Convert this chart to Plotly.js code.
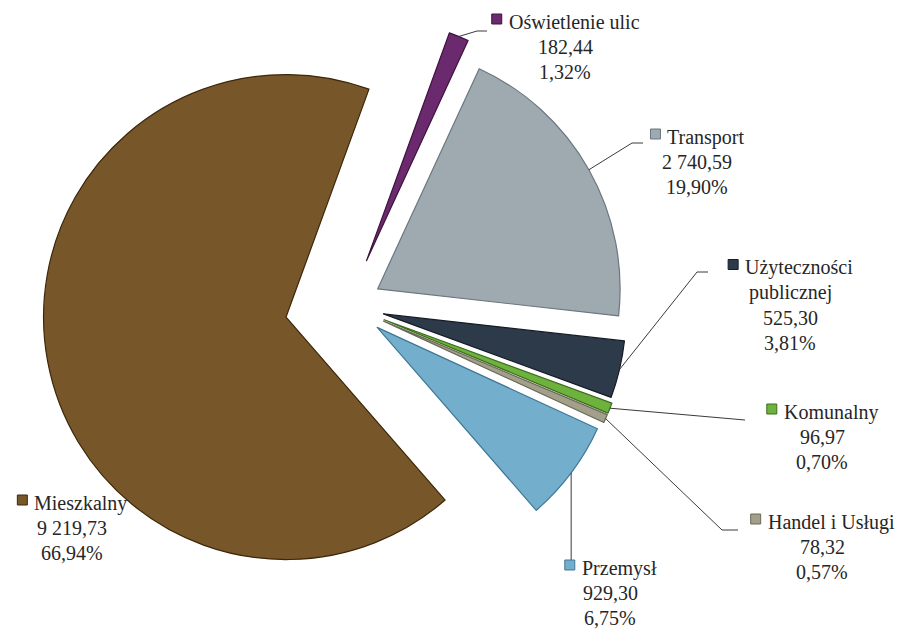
<!DOCTYPE html>
<html><head><meta charset="utf-8">
<script src="https://cdn.plot.ly/plotly-3.0.1.min.js"></script>
<style>html,body{margin:0;padding:0;background:#fff}#chart{width:904px;height:630px}</style>
</head><body><div id="chart"></div>
<script>
// ---- data ----
const categories = ['Oświetlenie ulic','Transport','Użyteczności publicznej','Komunalny','Handel i Usługi','Przemysł','Mieszkalny'];
const values = [182.44, 2740.59, 525.30, 96.97, 78.32, 929.30, 9219.73];
const labelLines = [['Oświetlenie ulic'],['Transport'],['Użyteczności','publicznej'],['Komunalny'],['Handel i Usługi'],['Przemysł'],['Mieszkalny']];

// ---- styles / layout ----
const colors = ['#6b2a6d','#9ea9b0','#2d3a4a','#6cb23c','#a2a08a','#74aecd','#77572a'];
const edgeColors = ['#3e1240','#6b7880','#151c26','#3d6d1d','#6a6856','#3f7894','#3d2709'];
const pulls = [0.20,0.14,0.15,0.16,0.16,0.15,0.26];
const W = 904, H = 630, ROT = 20;
const domX = [0, 0.77], domY = [0.03, 1];
const labelPos = [[565,47],[697,162],[790,305],[822,437],[822,547],[610,593],[72,528]];
const leaders = [[477,31,487,31],[632,143,643,143],[697,272,708,272],[745,420,745,420],[722,530,738,530],['v',560,'v',560],null];
const FONT = 'Liberation Serif', FS = 20, LH = 25, SQ = 10, GAP = 6;

const total = values.reduce((a,b)=>a+b,0);
function fmt(v){ const s=v.toFixed(2).split('.'); return s[0].replace(/\B(?=(\d{3})+(?!\d))/g,' ')+','+s[1]; }
function pct(v){ return (v/total*100).toFixed(2).replace('.',',')+'%'; }

const ctx = document.createElement('canvas').getContext('2d');
ctx.font = `${FS}px "${FONT}"`;

// geometry matching Plotly's pie scaling
const boxW = W*(domX[1]-domX[0]), boxH = H*(domY[1]-domY[0]);
const r = Math.min(boxW,boxH)/(2+2*Math.max(...pulls));
const cx = W*(domX[0]+domX[1])/2, cy = H*(1-domY[0]) - boxH/2;
const px = x=>x/W, py = y=>1-y/H;

let ang = ROT*Math.PI/180;
const shapes = [], annotations = [];
values.forEach((v,i)=>{
  const span = 2*Math.PI*v/total, mid = ang+span/2; ang += span;
  const dx = Math.sin(mid), dy = -Math.cos(mid);
  const ax = cx + (pulls[i]+1)*r*dx, ay = cy + (pulls[i]+1)*r*dy;
  const L = leaders[i];
  if (L){
    const ex = L[0]==='v'?ax:L[0], fx = L[2]==='v'?ax:L[2];
    shapes.push({type:'path', xref:'paper', yref:'paper',
      path:`M ${px(ax)} ${py(ay)} L ${px(ex)} ${py(L[1])} L ${px(fx)} ${py(L[3])}`,
      line:{color:'#3a3a3a', width:1}});
  }
  const lines = [...labelLines[i], fmt(v), pct(v)];
  const n = lines.length, [lx, ly] = labelPos[i];
  lines.forEach((t,k)=>{
    const y = ly + (k-(n-1)/2)*LH;
    const f = {family:FONT, size:FS, color:'#262626'};
    if (k === 0){
      const tw = ctx.measureText(t).width;
      const start = lx - (SQ+GAP+tw)/2;
      shapes.push({type:'rect', xref:'paper', yref:'paper',
        x0:px(start), x1:px(start+SQ), y0:py(y+2), y1:py(y+2-SQ),
        fillcolor:colors[i], line:{color:edgeColors[i], width:1}});
      annotations.push({xref:'paper', yref:'paper', x:px(start+SQ+GAP-1), y:py(y),
        xanchor:'left', yanchor:'middle', showarrow:false, text:t, font:f});
    } else {
      annotations.push({xref:'paper', yref:'paper', x:px(lx), y:py(y),
        xanchor:'center', yanchor:'middle', showarrow:false, text:t, font:f});
    }
  });
});

const trace = {
  type:'pie', labels:categories, values:values, sort:false, direction:'clockwise',
  rotation:ROT, pull:pulls, textinfo:'none', hoverinfo:'label+value+percent',
  marker:{colors:colors, line:{color:edgeColors, width:1.2}},
  domain:{x:domX, y:domY}, showlegend:false
};
Plotly.newPlot('chart',[trace],{
  width:W, height:H, margin:{l:0,r:0,t:0,b:0}, paper_bgcolor:'#fff',
  font:{family:FONT, color:'#262626'},
  showlegend:false, shapes:shapes, annotations:annotations
},{displayModeBar:false, staticPlot:true});
</script></body></html>
